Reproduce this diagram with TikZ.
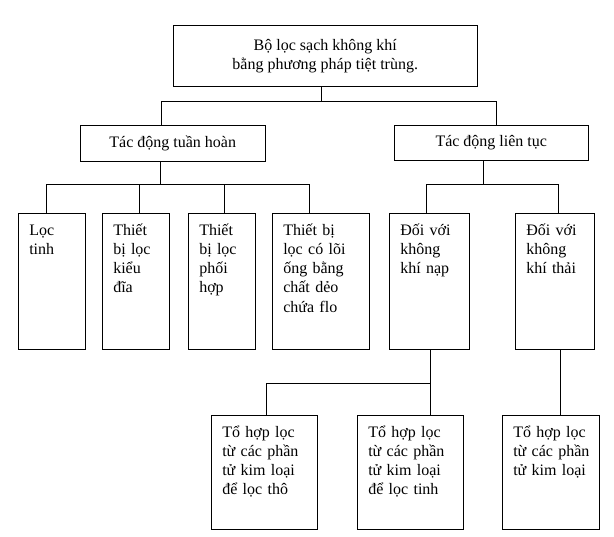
\documentclass[tikz,border=0pt]{standalone}
\usepackage{fontspec}
\setmainfont{Liberation Serif}
\begin{document}
\begin{tikzpicture}[
    x=0.75pt, y=-0.75pt,
    font=\fontsize{12}{14.4}\selectfont,
    head/.style = {rectangle, draw, anchor=north west, align=center, inner sep=0pt},
    leaf/.style = {rectangle, draw, anchor=north west, align=left, inner xsep=8.25pt, inner ysep=0pt, text height=16.5pt},
    unit/.style = {leaf, text depth=85.5pt},
    combo/.style = {leaf, text depth=69pt},
    link/.style = {draw, line width=0.75pt}
]
    \useasboundingbox (0,0) rectangle (614,536);

    \node[head, minimum width=228pt, minimum height=45.75pt] (top) at (173,25) {Bộ lọc sạch không khí\\bằng phương pháp tiệt trùng.};

    \node[head, minimum width=138.75pt, minimum height=27pt] (cyc) at (80,125) {Tác động tuần hoàn};
    \node[head, minimum width=145.5pt, minimum height=26.25pt] (cont) at (394,125) {Tác động liên tục};

    \node[unit, text width=33.75pt] (b1) at (18,213) {Lọc\\tinh};
    \node[unit, text width=33.75pt] (b2) at (102,213) {Thiết\\bị lọc\\kiểu\\đĩa};
    \node[unit, text width=33.75pt] (b3) at (188,213) {Thiết\\bị lọc\\phối\\hợp};
    \node[unit, text width=56.25pt] (b4) at (272,213) {Thiết bị\\lọc có lõi\\ống bằng\\chất dẻo\\chứa flo};
    \node[unit, text width=43.5pt] (b5) at (389,213) {Đối với\\không\\khí nạp};
    \node[unit, text width=42.75pt] (b6) at (515,213) {Đối với\\không\\khí thải};

    \node[combo, text width=63pt] (c1) at (211,415) {Tổ hợp lọc\\từ các phần\\tử kim loại\\để lọc thô};
    \node[combo, text width=63pt] (c2) at (357,415) {Tổ hợp lọc\\từ các phần\\tử kim loại\\để lọc tinh};
    \node[combo, text width=56.25pt] (c3) at (502,415) {Tổ~hợp~lọc\\từ~các~phần\\tử~kim~loại};

    \path[link] ([xshift=-3pt]top.south) -- ++(0,15) coordinate (k1);
    \path[link] (k1) -| ([xshift=-8.625pt]cyc.north);
    \path[link] (k1) -| ([xshift=3.75pt]cont.north);

    \path[link] ([xshift=-9.375pt]cyc.south) -- ++(0,23) coordinate (k2);
    \path[link] (k2) -| ([xshift=-4.125pt]b1.north);
    \path[link] (k2) -| ([xshift=2.625pt]b2.north);
    \path[link] (k2) -| ([xshift=1.875pt]b3.north);
    \path[link] (k2) -| ([xshift=-8.625pt]b4.north);

    \path[link] ([xshift=-6pt]cont.south) -- ++(0,24) coordinate (k3);
    \path[link] (k3) -| ([xshift=-2.25pt]b5.north);
    \path[link] (k3) -| ([xshift=2.625pt]b6.north);

    \path[link] ([xshift=0.75pt]b5.south) -- ++(0,34) coordinate (k4) -- ([xshift=15pt]c2.north);
    \path[link] (k4) -| ([xshift=1.5pt]c1.north);
    \path[link] ([xshift=4.125pt]b6.south) -- ([xshift=7.125pt]c3.north);
\end{tikzpicture}
\end{document}
